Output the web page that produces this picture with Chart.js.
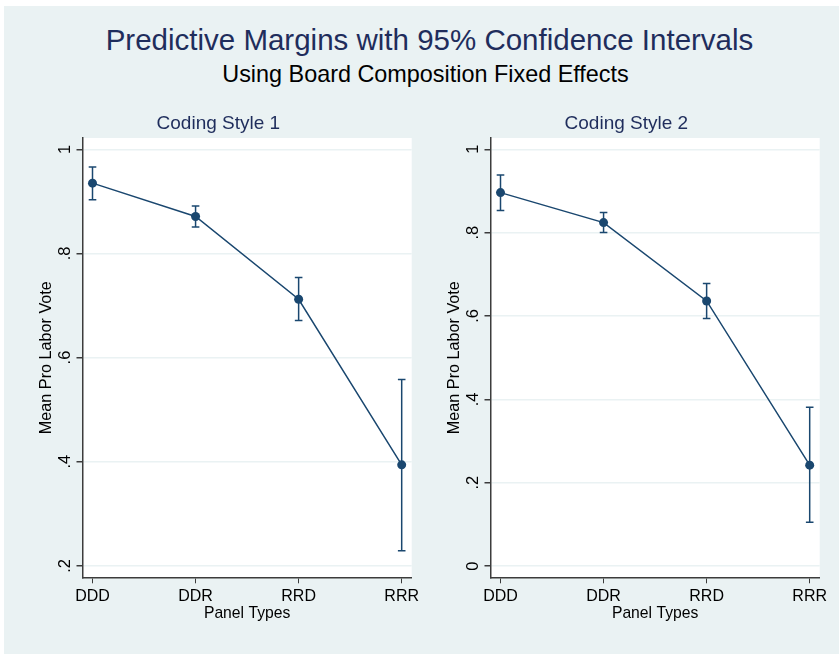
<!DOCTYPE html>
<html>
<head>
<meta charset="utf-8">
<script src="https://cdn.jsdelivr.net/npm/chart.js@4/dist/chart.umd.min.js"></script>
<style>
  body { margin: 0; background: #fff; font-family: "Liberation Sans", Arial, sans-serif; }
  #graph { position: absolute; left: 4px; top: 6px; width: 835px; height: 648px; background: #eaf2f3; }
  .ttl { position: absolute; white-space: nowrap; text-align: center; line-height: 1; }
  #main-title { left: 10px; top: 24.6px; width: 839px; font-size: 29.5px; color: #1f2d5c; }
  #sub-title { left: 6px; top: 63.2px; width: 839px; font-size: 23.4px; color: #000; }
  .panel { position: absolute; top: 100px; width: 400px; height: 540px; }
</style>
</head>
<body>
<div id="graph"></div>
<div id="main-title" class="ttl">Predictive Margins with 95% Confidence Intervals</div>
<div id="sub-title" class="ttl">Using Board Composition Fixed Effects</div>
<div class="panel" style="left:25px"><canvas id="chart1" width="400" height="540"></canvas></div>
<div class="panel" style="left:433px"><canvas id="chart2" width="400" height="540"></canvas></div>
<script>
const panelTypes = ['DDD', 'DDR', 'RRD', 'RRR'];
const panelPos = [1, 2, 3, 4];

// Coding Style 1
const margins1 = [0.935, 0.871, 0.712, 0.394];
const lower1 = [0.903, 0.851, 0.671, 0.229];
const upper1 = [0.966, 0.891, 0.754, 0.558];
const yTicks1 = [0.2, 0.4, 0.6, 0.8, 1];
const yLabels1 = ['.2', '.4', '.6', '.8', '1'];

// Coding Style 2
const margins2 = [0.896, 0.824, 0.636, 0.242];
const lower2 = [0.853, 0.800, 0.594, 0.105];
const upper2 = [0.938, 0.848, 0.678, 0.381];
const yTicks2 = [0, 0.2, 0.4, 0.6, 0.8, 1];
const yLabels2 = ['0', '.2', '.4', '.6', '.8', '1'];

const navy = '#1a476f';
const axisCol = '#3c3c3c';
const FONT = '"Liberation Sans", Arial, sans-serif';

Chart.defaults.font.family = FONT;
Chart.defaults.color = '#000';

const plotBg = {
  id: 'plotBg',
  beforeDraw(chart) {
    const a = chart.chartArea;
    const ctx = chart.ctx;
    ctx.save();
    ctx.fillStyle = '#fff';
    ctx.fillRect(a.left, a.top, a.right - a.left, a.bottom - a.top);
    ctx.restore();
  }
};

function makePanel(id, title, margins, lower, upper, yTicks, yLabels, yMin, yMax) {
  const pts = panelPos.map((x, i) => ({ x, y: margins[i] }));
  const bars = [];
  panelPos.forEach((x, i) => {
    bars.push({ x, y: lower[i] }, { x, y: upper[i] }, { x, y: null });
  });

  new Chart(document.getElementById(id), {
    type: 'scatter',
    data: {
      datasets: [
        {
          data: pts,
          showLine: true,
          borderColor: navy,
          borderWidth: 1.5,
          pointRadius: 4.5,
          pointBackgroundColor: navy,
          pointBorderColor: navy,
          pointBorderWidth: 0
        },
        {
          data: bars,
          showLine: true,
          spanGaps: false,
          borderColor: navy,
          borderWidth: 1.5,
          pointStyle: 'line',
          pointRadius: 3.8,
          pointBorderColor: navy,
          pointBorderWidth: 1.5
        }
      ]
    },
    options: {
      responsive: false,
      animation: false,
      devicePixelRatio: 1,
      layout: { padding: { left: 0, right: 13.3, top: 0, bottom: 0 } },
      plugins: {
        legend: { display: false },
        tooltip: { enabled: false },
        title: {
          display: true,
          text: title,
          color: '#1f2d5c',
          font: { size: 19, weight: 'normal' },
          padding: { top: 12, bottom: 3.2 }
        }
      },
      scales: {
        x: {
          type: 'linear',
          min: 1 - 10 / 103,
          max: 4 + 10 / 103,
          afterBuildTicks: s => { s.ticks = panelPos.map(v => ({ value: v })); },
          afterFit: s => { s.height = 62.7; },
          ticks: {
            callback: (v, i) => panelTypes[i],
            font: { size: 16 },
            color: '#000',
            padding: 3.5,
            maxRotation: 0
          },
          grid: { drawOnChartArea: false, drawTicks: true, tickLength: 6, tickColor: axisCol },
          border: { display: true, color: axisCol, width: 1.5 },
          title: { display: true, text: 'Panel Types', font: { size: 15.7 }, color: '#000', padding: { top: 0, bottom: 17 } }
        },
        y: {
          min: yMin,
          max: yMax,
          afterBuildTicks: s => { s.ticks = yTicks.map(v => ({ value: v })); },
          afterFit: s => { s.width = 57.5; },
          ticks: {
            callback: (v, i) => yLabels[i],
            font: { size: 16.5 },
            color: '#000',
            minRotation: 90,
            maxRotation: 90,
            crossAlign: 'center',
            padding: 4
          },
          grid: { color: '#eaf2f3', lineWidth: 1.5, tickLength: 6, tickColor: axisCol },
          border: { display: true, color: axisCol, width: 1.5 },
          title: { display: true, text: 'Mean Pro Labor Vote', font: { size: 16.2 }, color: '#000', padding: { top: 11.5, bottom: 0 } }
        }
      }
    },
    plugins: [plotBg]
  });
}

makePanel('chart1', 'Coding Style 1', margins1, lower1, upper1, yTicks1, yLabels1, 0.178, 1.0217);
makePanel('chart2', 'Coding Style 2', margins2, lower2, upper2, yTicks2, yLabels2, -0.027, 1.027);
</script>
</body>
</html>
